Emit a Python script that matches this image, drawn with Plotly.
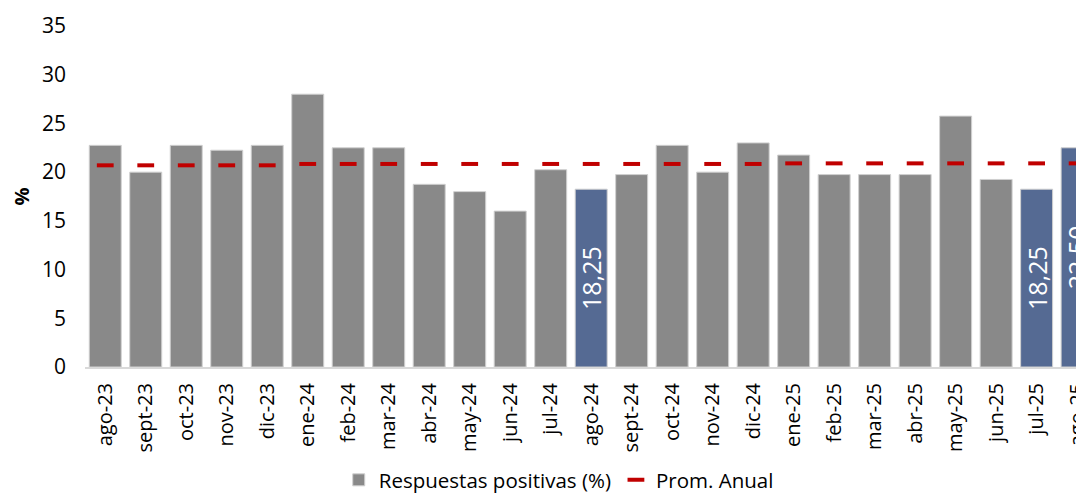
import plotly.graph_objects as go

categories = ["ago-23", "sept-23", "oct-23", "nov-23", "dic-23",
              "ene-24", "feb-24", "mar-24", "abr-24", "may-24", "jun-24", "jul-24",
              "ago-24", "sept-24", "oct-24", "nov-24", "dic-24",
              "ene-25", "feb-25", "mar-25", "abr-25", "may-25", "jun-25", "jul-25", "ago-25"]
respuestas = [22.75, 20.0, 22.75, 22.25, 22.75,
              28.0, 22.5, 22.5, 18.75, 18.0, 16.0, 20.25,
              18.25, 19.75, 22.75, 20.0, 23.0,
              21.75, 19.75, 19.75, 19.75, 25.75, 19.25, 18.25, 22.5]
prom_anual = [20.7, 20.7, 20.7, 20.7, 20.7,
              20.84, 20.84, 20.84, 20.84, 20.84, 20.84, 20.84,
              20.84, 20.84, 20.84, 20.84, 20.84,
              20.9, 20.9, 20.9, 20.9, 20.9, 20.9, 20.9, 20.9]
highlighted = ["ago-24", "jul-25", "ago-25"]
yticks = [0, 5, 10, 15, 20, 25, 30, 35]

GRAY = "#898989"
BLUE = "#556a93"
RED = "#c00000"
FONT = "Open Sans"

bar_colors = [BLUE if c in highlighted else GRAY for c in categories]
bar_text = [f"{v:.2f}".replace(".", ",") if c in highlighted else "" for c, v in zip(categories, respuestas)]

fig = go.Figure()
fig.add_trace(go.Bar(
    x=categories, y=respuestas, name="Respuestas positivas (%)",
    marker=dict(color=bar_colors, line=dict(color="#d0d0d0", width=1)),
    text=bar_text, textposition="inside", textangle=-90,
    insidetextanchor="middle", constraintext="none",
    textfont=dict(color="white", size=25, family=FONT),
))
fig.add_trace(go.Scatter(
    x=categories, y=prom_anual, name="Prom. Anual", mode="markers",
    marker=dict(symbol="line-ew", size=12, line=dict(color=RED, width=4), color=RED),
))

# the page body adds an 8px offset, so the figure is sized to end at the window edge
fig.update_layout(
    width=1076, height=485, autosize=False,
    margin=dict(l=77, r=0, t=18, b=126),
    plot_bgcolor="white", paper_bgcolor="white",
    bargap=0.21,
    font=dict(family=FONT, color="black"),
    showlegend=True,
    legend=dict(orientation="h", x=0.254, xanchor="left", yref="container", y=0.068, yanchor="top",
                font=dict(size=20.5, family=FONT), itemwidth=30, tracegroupgap=0),
)
fig.update_xaxes(
    range=[-0.5, 24.17], tickangle=-90, tickfont=dict(size=20, family=FONT),
    showline=True, linecolor="#d9d9d9", linewidth=2, showgrid=False, ticks="",
    ticklabelstandoff=6, automargin=False,
)
fig.update_yaxes(
    range=[0, 35], tickvals=yticks, tickfont=dict(size=21, family=FONT),
    showgrid=False, showline=False, zeroline=False, ticks="",
    title=dict(text="<b>%</b>", font=dict(size=20, family=FONT), standoff=10),
    ticklabelstandoff=18, automargin=False,
)

fig.write_html("out.html")
